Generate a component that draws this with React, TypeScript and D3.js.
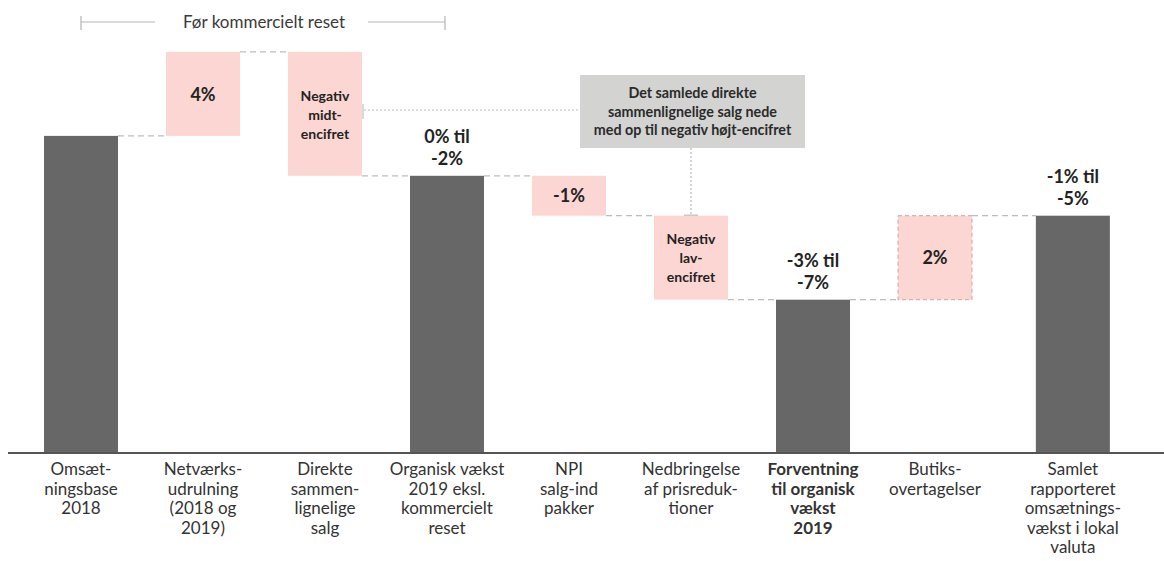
import React from "react";
import * as d3 from "d3";

const categories = [
  "Omsætningsbase 2018",
  "Netværksudrulning (2018 og 2019)",
  "Direkte sammenlignelige salg",
  "Organisk vækst 2019 eksl. kommercielt reset",
  "NPI salg-ind pakker",
  "Nedbringelse af prisreduktioner",
  "Forventning til organisk vækst 2019",
  "Butiksovertagelser",
  "Samlet rapporteret omsætningsvækst i lokal valuta",
];
const categoryLines = [
  ["Omsæt-", "ningsbase", "2018"],
  ["Netværks-", "udrulning", "(2018 og", "2019)"],
  ["Direkte", "sammen-", "lignelige", "salg"],
  ["Organisk vækst", "2019 eksl.", "kommercielt", "reset"],
  ["NPI", "salg-ind", "pakker"],
  ["Nedbringelse", "af prisreduk-", "tioner"],
  ["Forventning", "til organisk", "vækst", "2019"],
  ["Butiks-", "overtagelser"],
  ["Samlet", "rapporteret", "omsætnings-", "vækst i lokal", "valuta"],
];
// schematic values (chart units): totals give absolute level, deltas give change
const kinds = ["total", "delta", "delta", "total", "delta", "delta", "total", "delta", "total"];
const values = [15.1, 4, -5.9, 13.2, -1.9, -4, 7.3, 4, 11.3];
const valueLabels = [
  [],
  ["4%"],
  ["Negativ", "midt-", "encifret"],
  ["0% til", "-2%"],
  ["-1%"],
  ["Negativ", "lav-", "encifret"],
  ["-3% til", "-7%"],
  ["2%"],
  ["-1% til", "-5%"],
];
const boldCategory = [false, false, false, false, false, false, true, false, false];
const bracketLabel = "Før kommercielt reset";
const calloutLines = [
  "Det samlede direkte",
  "sammenlignelige salg nede",
  "med op til negativ højt-encifret",
];

const W = 1164;
const H = 561;
const FONT = "Lato, 'Open Sans', sans-serif";

export default function App() {
  const y = d3.scaleLinear().domain([0, 20]).range([453, 33]);
  const x = d3.scaleLinear().domain([0, 7]).range([81, 935]);
  const barW = 74;
  const cx = (i: number) => x(i + (i === 8 ? 0.13 : 0));

  let running = 0;
  const bars = values.map((v, i) => {
    let y0: number, y1: number;
    if (kinds[i] === "total") {
      running = v;
      y0 = 0;
      y1 = v;
    } else {
      y0 = running;
      y1 = running + v;
      running = y1;
    }
    return { i, kind: kinds[i], lo: Math.min(y0, y1), hi: Math.max(y0, y1), end: y1 };
  });

  const connectors = bars.slice(0, -1).map((b, k) => {
    const level = b.end;
    return { x1: cx(k) + barW / 2, x2: cx(k + 1) - barW / 2, y: y(level) };
  });

  const pink = "#fcd6d2";
  const dark = "#676767";

  const directe = bars[2];
  const ned = bars[5];
  const box = { x: 580, y: 75, w: 225, h: 73 };
  const boxCx = cx(5);

  return (
    <svg width={W} height={H} style={{ position: "absolute", left: 0, top: 0, background: "#fff" }}>
      {/* bracket */}
      <g stroke="#b5b5b5" strokeWidth={1.2}>
        <line x1={cx(0)} x2={155} y1={22} y2={22} />
        <line x1={368} x2={cx(3) - 2} y1={22} y2={22} />
        <line x1={cx(0)} x2={cx(0)} y1={16} y2={30} />
        <line x1={cx(3) - 2} x2={cx(3) - 2} y1={16} y2={30} />
      </g>
      <text x={(cx(0) + cx(3)) / 2} y={28} textAnchor="middle" fontFamily={FONT} fontSize={17} fill="#3a3a3a">
        {bracketLabel}
      </text>

      {/* connectors */}
      {connectors.map((c, k) => (
        <line key={k} x1={c.x1} x2={c.x2} y1={c.y} y2={c.y} stroke="#bdbdbd" strokeWidth={1.2} strokeDasharray="6,4" />
      ))}

      {/* bars */}
      {bars.map((b) => (
        <rect
          key={b.i}
          x={cx(b.i) - barW / 2}
          y={y(b.hi)}
          width={barW}
          height={y(b.lo) - y(b.hi)}
          fill={b.kind === "total" ? dark : pink}
          stroke={b.i === 7 ? "#c2a9a6" : "none"}
          strokeDasharray={b.i === 7 ? "4,3" : undefined}
        />
      ))}

      {/* axis */}
      <line x1={8} x2={W} y1={y(0)} y2={y(0)} stroke="#555" strokeWidth={2} />

      {/* callout */}
      <line x1={cx(2) + barW / 2 + 2} x2={box.x} y1={110} y2={110} stroke="#bbb" strokeWidth={1.2} strokeDasharray="2,2" />
      <line x1={cx(2) + barW / 2 + 1} x2={cx(2) + barW / 2 + 1} y1={y(directe.hi) + 52} y2={y(directe.hi) + 67} stroke="#ccc" strokeWidth={1.5} />
      <line x1={boxCx} x2={boxCx} y1={box.y + box.h} y2={y(ned.hi)} stroke="#bbb" strokeWidth={1.2} strokeDasharray="2,2" />
      <line x1={boxCx - 7} x2={boxCx + 7} y1={y(ned.hi) - 0.5} y2={y(ned.hi) - 0.5} stroke="#c8c8c8" strokeWidth={1.5} />
      <rect x={box.x} y={box.y} width={box.w} height={box.h} fill="#d3d3d1" />
      {calloutLines.map((l, k) => (
        <text key={k} x={box.x + box.w / 2} y={98 + k * 18.5} textAnchor="middle" fontFamily={FONT} fontWeight={700} fontSize={14.3} fill="#2a2a2a">
          {l}
        </text>
      ))}

      {/* value labels */}
      {bars.map((b) => {
        const lines = valueLabels[b.i];
        if (!lines.length) return null;
        if (b.kind === "total") {
          const top = y(b.hi);
          return lines.map((l, k) => (
            <text key={`${b.i}-${k}`} x={cx(b.i)} y={top - 11 - (lines.length - 1 - k) * 21.5} textAnchor="middle" fontFamily={FONT} fontWeight={700} fontSize={18} fill="#222">
              {l}
            </text>
          ));
        }
        const mid = b.i === 2 ? y(b.hi) + 63 : (y(b.hi) + y(b.lo)) / 2;
        const lh = 19;
        const fs = lines.length > 1 ? 14 : 18;
        const cy = b.i === 1 ? y(b.hi) + 43 : mid;
        return lines.map((l, k) => (
          <text key={`${b.i}-${k}`} x={cx(b.i)} y={cy + (k - (lines.length - 1) / 2) * lh + fs * 0.35} textAnchor="middle" fontFamily={FONT} fontWeight={700} fontSize={fs} fill="#222">
            {l}
          </text>
        ));
      })}

      {/* category labels */}
      {categoryLines.map((lines, i) => (
        <text key={i} textAnchor="middle" fontFamily={FONT} fontSize={17} fontWeight={boldCategory[i] ? 700 : 400} fill="#333">
          {lines.map((l, k) => (
            <tspan key={k} x={cx(i)} y={475 + k * 19.5}>
              {l}
            </tspan>
          ))}
          <title>{categories[i]}</title>
        </text>
      ))}
    </svg>
  );
}
